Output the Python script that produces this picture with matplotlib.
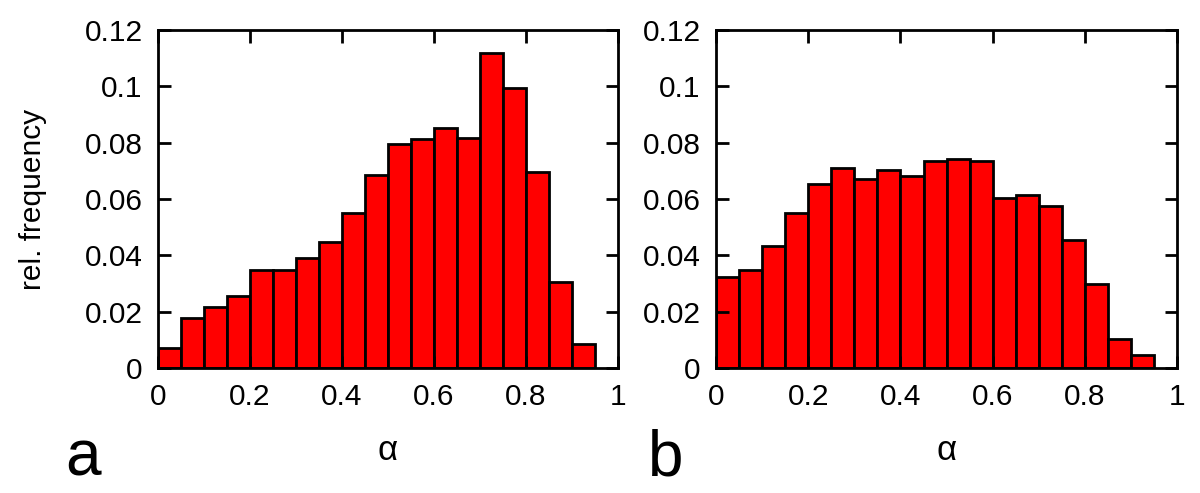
import numpy as np
import matplotlib
matplotlib.use("Agg")
import matplotlib.pyplot as plt

plt.rcParams['font.family'] = ['Liberation Sans', 'DejaVu Sans']

# bin left edges (width 0.05)
bin_edges = [0.00, 0.05, 0.10, 0.15, 0.20, 0.25, 0.30, 0.35, 0.40, 0.45,
             0.50, 0.55, 0.60, 0.65, 0.70, 0.75, 0.80, 0.85, 0.90]
freq_a = [0.0070, 0.0179, 0.0217, 0.0256, 0.0349, 0.0349, 0.0392, 0.0447, 0.0551, 0.0687,
          0.0796, 0.0814, 0.0854, 0.0818, 0.1120, 0.0994, 0.0695, 0.0306, 0.0087]
freq_b = [0.0324, 0.0347, 0.0435, 0.0550, 0.0654, 0.0710, 0.0671, 0.0704, 0.0681, 0.0736,
          0.0743, 0.0736, 0.0602, 0.0615, 0.0577, 0.0454, 0.0300, 0.0103, 0.0045]

x_ticks = [0, 0.2, 0.4, 0.6, 0.8, 1.0]
x_labels = ['0', '0.2', '0.4', '0.6', '0.8', '1']
y_ticks = [0, 0.02, 0.04, 0.06, 0.08, 0.10, 0.12]
y_labels = ['0', '0.02', '0.04', '0.06', '0.08', '0.1', '0.12']

fig = plt.figure(figsize=(12, 4.93), dpi=100)
ax_a = fig.add_axes([0.1317, 0.2535, 0.3833, 0.6855])
ax_b = fig.add_axes([0.5967, 0.2535, 0.3842, 0.6855])

for ax, freq in [(ax_a, freq_a), (ax_b, freq_b)]:
    ax.bar(bin_edges, freq, width=0.05, align='edge', color='#ff0000',
           edgecolor='black', linewidth=2)
    ax.set_xlim(0, 1)
    ax.set_ylim(0, 0.12)
    ax.set_xticks(x_ticks)
    ax.set_xticklabels(x_labels)
    ax.set_yticks(y_ticks)
    ax.set_yticklabels(y_labels)
    ax.tick_params(direction='in', length=9, width=2, labelsize=21.5,
                   top=True, right=True, pad=11)
    for s in ax.spines.values():
        s.set_linewidth(2)
    ax.set_xlabel('α', fontsize=25, va='center')
    ax.xaxis.set_label_coords(0.5, -0.243)

ax_a.set_ylabel('rel. frequency', fontsize=21.5, va='center')
ax_a.yaxis.set_label_coords(-0.272, 0.5)

fig.text(0.054, 0.0365, 'a', fontsize=46, va='baseline')
fig.text(0.540, 0.0365, 'b', fontsize=46, va='baseline')

plt.savefig('out.png', dpi=100)
